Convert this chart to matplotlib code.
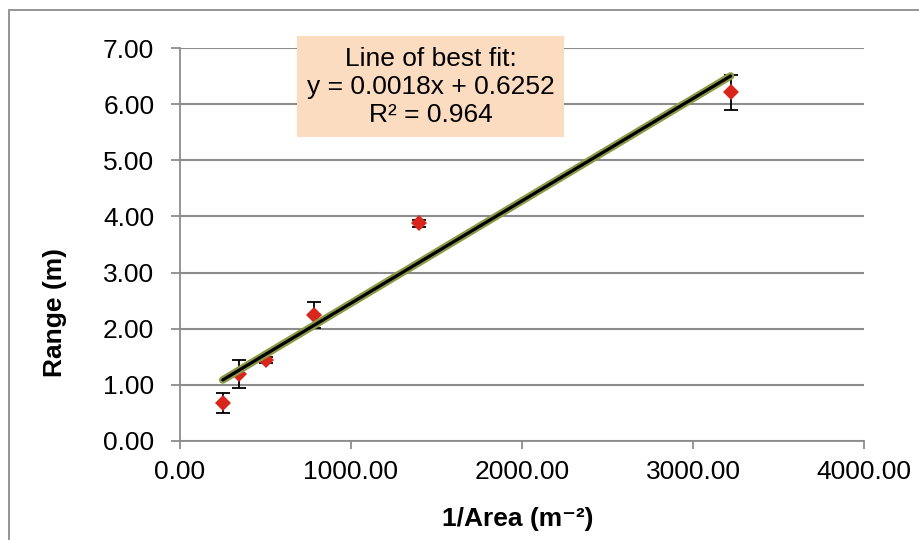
import numpy as np
import matplotlib
matplotlib.use('Agg')
import matplotlib.pyplot as plt
from matplotlib.patches import Rectangle

plt.rcParams['font.family'] = ['Liberation Sans', 'DejaVu Sans']

## dados
inv_area = [250, 347, 503, 786, 1400, 3220]
alcance = [0.68, 1.19, 1.44, 2.25, 3.88, 6.21]
erro = [0.18, 0.25, 0.05, 0.23, 0.06, 0.31]
xticks = [0, 1000, 2000, 3000, 4000]
yticks = [0, 1, 2, 3, 4, 5, 6, 7]
texto_ajuste = ['Line of best fit:', 'y = 0.0018x + 0.6252', 'R\u00b2 = 0.964']

cinza = '#8c8c8c'
fs = 19

fig = plt.figure(figsize=(9.2, 5.4), dpi=100)
ax = fig.add_axes([180/920, 1-441/540, 684/920, 393/540])

## moldura do grafico
fig.patches.append(Rectangle((9/920, -0.2), 1.2, 1.2 - 10/540, transform=fig.transFigure,
                             fill=False, edgecolor=cinza, linewidth=1.3))

ax.errorbar(inv_area, alcance, yerr=erro, fmt='none', ecolor='black', elinewidth=1.3,
            capsize=4.7, capthick=1.3, zorder=3)
ax.plot(inv_area, alcance, 'D', color='#d9261c', markersize=8.5, markeredgewidth=0, zorder=4)

## linha de tendencia
a, b = np.polyfit(inv_area, alcance, 1)
xs = np.array([min(inv_area), max(inv_area)])
ax.plot(xs, a*xs + b, color='#8c9a48', linewidth=5.5, solid_capstyle='round', zorder=5)
ax.plot(xs, a*xs + b, color='black', linewidth=2.3, solid_capstyle='round', zorder=6)

ax.set_xlim(0, 4000)
ax.set_ylim(0, 7)
ax.set_xticks(xticks)
ax.set_yticks(yticks)
ax.set_xticklabels(['%.2f' % v for v in xticks], fontsize=fs)
ax.set_yticklabels(['%.2f' % v for v in yticks], fontsize=fs)
ax.grid(axis='y', color=cinza, linewidth=1.5)
ax.set_axisbelow(True)
for s in ['top', 'right']:
    ax.spines[s].set_visible(False)
for s in ['left', 'bottom']:
    ax.spines[s].set_color(cinza)
    ax.spines[s].set_linewidth(1.3)
ax.tick_params(axis='y', direction='out', length=6.5, width=1.3, color=cinza, pad=12)
ax.tick_params(axis='x', direction='out', length=6, width=1.3, color=cinza, pad=8)

ax.set_xlabel('1/Area (m\u207b\u00b2)', fontsize=fs, fontweight='bold')
ax.set_ylabel('Range (m)', fontsize=fs, fontweight='bold')
ax.xaxis.set_label_coords(0.494, -0.168)
ax.yaxis.set_label_coords(-0.165, 0.326)

## caixa com a equacao
fig.patches.append(Rectangle((297/920, 1-137/540), 267/920, 101/540, transform=fig.transFigure,
                             facecolor='#fcdcc0', edgecolor='none', zorder=10))
fig.text(431/920, 1-87/540, '\n'.join(texto_ajuste), fontsize=fs, ha='center', va='center',
         linespacing=1.2, zorder=11)

fig.savefig('out.png', dpi=100)
